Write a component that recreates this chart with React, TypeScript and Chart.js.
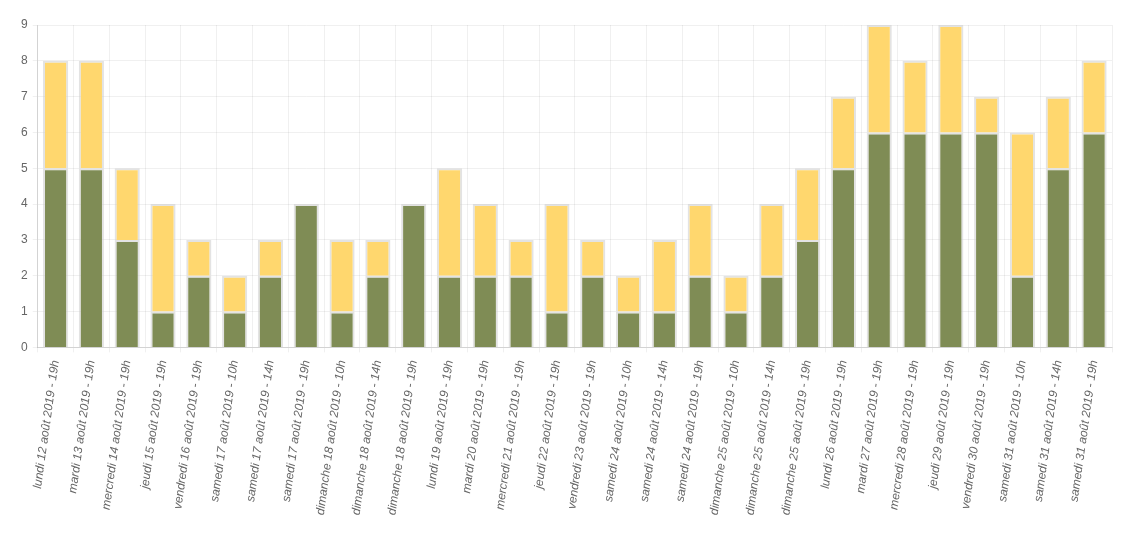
import React, { useEffect, useRef } from "react";
import { Chart, registerables } from "chart.js";

Chart.register(...registerables);

const categories: string[] = [
  "lundi 12 août 2019 - 19h",
  "mardi 13 août 2019 - 19h",
  "mercredi 14 août 2019 - 19h",
  "jeudi 15 août 2019 - 19h",
  "vendredi 16 août 2019 - 19h",
  "samedi 17 août 2019 - 10h",
  "samedi 17 août 2019 - 14h",
  "samedi 17 août 2019 - 19h",
  "dimanche 18 août 2019 - 10h",
  "dimanche 18 août 2019 - 14h",
  "dimanche 18 août 2019 - 19h",
  "lundi 19 août 2019 - 19h",
  "mardi 20 août 2019 - 19h",
  "mercredi 21 août 2019 - 19h",
  "jeudi 22 août 2019 - 19h",
  "vendredi 23 août 2019 - 19h",
  "samedi 24 août 2019 - 10h",
  "samedi 24 août 2019 - 14h",
  "samedi 24 août 2019 - 19h",
  "dimanche 25 août 2019 - 10h",
  "dimanche 25 août 2019 - 14h",
  "dimanche 25 août 2019 - 19h",
  "lundi 26 août 2019 - 19h",
  "mardi 27 août 2019 - 19h",
  "mercredi 28 août 2019 - 19h",
  "jeudi 29 août 2019 - 19h",
  "vendredi 30 août 2019 - 19h",
  "samedi 31 août 2019 - 10h",
  "samedi 31 août 2019 - 14h",
  "samedi 31 août 2019 - 19h",
];

const greenValues: number[] = [5, 5, 3, 1, 2, 1, 2, 4, 1, 2, 4, 2, 2, 2, 1, 2, 1, 1, 2, 1, 2, 3, 5, 6, 6, 6, 6, 2, 5, 6];
const yellowValues: number[] = [3, 3, 2, 3, 1, 1, 1, 0, 2, 1, 0, 3, 2, 1, 3, 1, 1, 2, 2, 1, 2, 2, 2, 3, 2, 3, 1, 4, 2, 2];

const yMin = 0;
const yMax = 9;

export default function App() {
  const ref = useRef<HTMLCanvasElement | null>(null);

  useEffect(() => {
    if (!ref.current) return;
    const font = "'Liberation Sans', Arial, Helvetica, sans-serif";
    const chart = new Chart(ref.current, {
      type: "bar",
      data: {
        labels: categories,
        datasets: [
          {
            label: "A",
            data: greenValues,
            backgroundColor: "#7f8c55",
            borderColor: "rgba(200,200,200,0.5)",
            borderWidth: 2,
            barPercentage: 0.9,
            categoryPercentage: 0.78,
          },
          {
            label: "B",
            data: yellowValues,
            backgroundColor: "#ffd76e",
            borderColor: "rgba(200,200,200,0.5)",
            borderWidth: 2,
            barPercentage: 0.9,
            categoryPercentage: 0.78,
          },
        ],
      },
      options: {
        animation: false,
        responsive: true,
        maintainAspectRatio: false,
        layout: { padding: { top: 25, right: 22, left: 16, bottom: 12 } },
        plugins: {
          legend: { display: false },
          title: { display: false },
          tooltip: { enabled: false },
        },
        scales: {
          x: {
            stacked: true,
            grid: { color: "rgba(0,0,0,0.06)", tickLength: 5, offset: true },
            border: { color: "rgba(0,0,0,0.12)" },
            ticks: {
              autoSkip: false,
              minRotation: 82,
              maxRotation: 82,
              color: "#666",
              padding: 7,
              font: { family: font, size: 12, style: "italic" },
            },
          },
          y: {
            stacked: true,
            min: yMin,
            max: yMax,
            grid: { color: "rgba(0,0,0,0.06)", tickLength: 5 },
            border: { color: "rgba(0,0,0,0.12)" },
            ticks: {
              stepSize: 1,
              color: "#666",
              padding: 5,
              font: { family: font, size: 12 },
            },
          },
        },
      },
    });
    return () => chart.destroy();
  }, []);

  return (
    <div style={{ position: "absolute", left: 0, top: 0, width: 1134, height: 535, background: "#fff" }}>
      <canvas ref={ref} />
    </div>
  );
}
